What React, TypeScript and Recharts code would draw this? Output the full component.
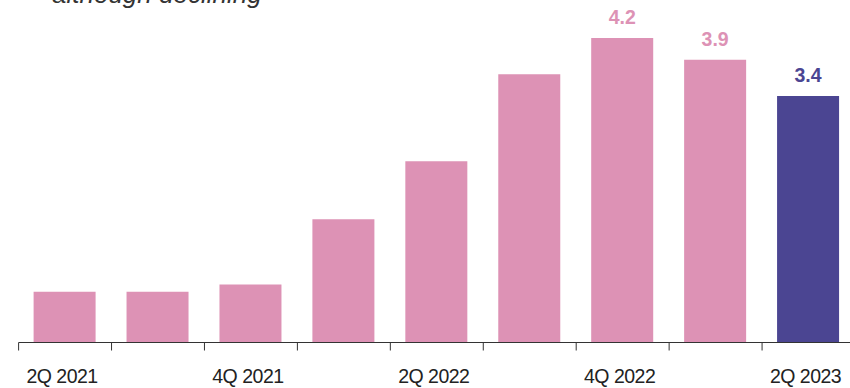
import React from "react";
import { BarChart, Bar, XAxis, YAxis, Cell, LabelList } from "recharts";

// Quarterly values
const quarters = ["2Q 2021", "3Q 2021", "4Q 2021", "1Q 2022", "2Q 2022", "3Q 2022", "4Q 2022", "1Q 2023", "2Q 2023"];
const values = [0.7, 0.7, 0.8, 1.7, 2.5, 3.7, 4.2, 3.9, 3.4];
const valueLabels = ["", "", "", "", "", "", "4.2", "3.9", "3.4"];
const shownTicks = ["2Q 2021", "4Q 2021", "2Q 2022", "4Q 2022", "2Q 2023"];

const PINK = "#DD92B5";
const PURPLE = "#4B4592";
const FONT = "'Liberation Sans', Arial, Helvetica, sans-serif";

const WIDTH = 850;
const HEIGHT = 388;
// the plot runs a little past the right edge of the picture, so the chart is drawn wider and clipped
const CHART_WIDTH = 855;
const MARGIN = { top: 38, right: 0, bottom: 0, left: 18.6 };
const BAND = (CHART_WIDTH - MARGIN.left - MARGIN.right) / quarters.length;

const data = quarters.map((q, i) => ({
  quarter: q,
  value: values[i],
  label: valueLabels[i],
}));

const colorFor = (i: number) => (i === quarters.length - 1 ? PURPLE : PINK);

// tick marks sit on the band boundaries, labels only every other quarter
const QuarterTick = (props: any) => {
  const { x, y, payload } = props;
  const left = x - BAND / 2;
  return (
    <g>
      <line x1={left} y1={y} x2={left} y2={y + 8} stroke="#333" strokeWidth={1} />
      {shownTicks.includes(payload.value) && (
        <text
          x={x - 3}
          y={y + 40}
          textAnchor="middle"
          fontFamily={FONT}
          fontSize={19.5}
          letterSpacing={-0.5}
          fill="#222"
        >
          {payload.value}
        </text>
      )}
    </g>
  );
};

const ValueLabel = (props: any) => {
  const { x, y, width, value, index } = props;
  if (!value) return null;
  return (
    <text
      x={x + width / 2}
      y={y - 14}
      textAnchor="middle"
      fontFamily={FONT}
      fontSize={19.5}
      fontWeight="bold"
      fill={colorFor(index)}
    >
      {value}
    </text>
  );
};

export default function App() {
  return (
    <div
      style={{
        position: "absolute",
        top: 0,
        left: 0,
        width: WIDTH,
        height: HEIGHT,
        overflow: "hidden",
        background: "#fff",
      }}
    >
      <svg width={WIDTH} height={20} style={{ position: "absolute", top: 0, left: 0 }}>
        <text x={52} y={3} fontFamily={FONT} fontSize={26} fontStyle="italic" fill="#333">
          although declining
        </text>
      </svg>
      <BarChart width={CHART_WIDTH} height={HEIGHT} data={data} margin={MARGIN}>
        <XAxis
          dataKey="quarter"
          interval={0}
          height={45.5}
          tickLine={false}
          tickSize={0}
          tickMargin={0}
          axisLine={{ stroke: "#333", strokeWidth: 1 }}
          tick={<QuarterTick />}
        />
        <YAxis hide domain={[0, 4.2]} />
        <Bar dataKey="value" barSize={62} isAnimationActive={false}>
          {data.map((d, i) => (
            <Cell key={d.quarter} fill={colorFor(i)} />
          ))}
          <LabelList dataKey="label" content={<ValueLabel />} />
        </Bar>
      </BarChart>
    </div>
  );
}
